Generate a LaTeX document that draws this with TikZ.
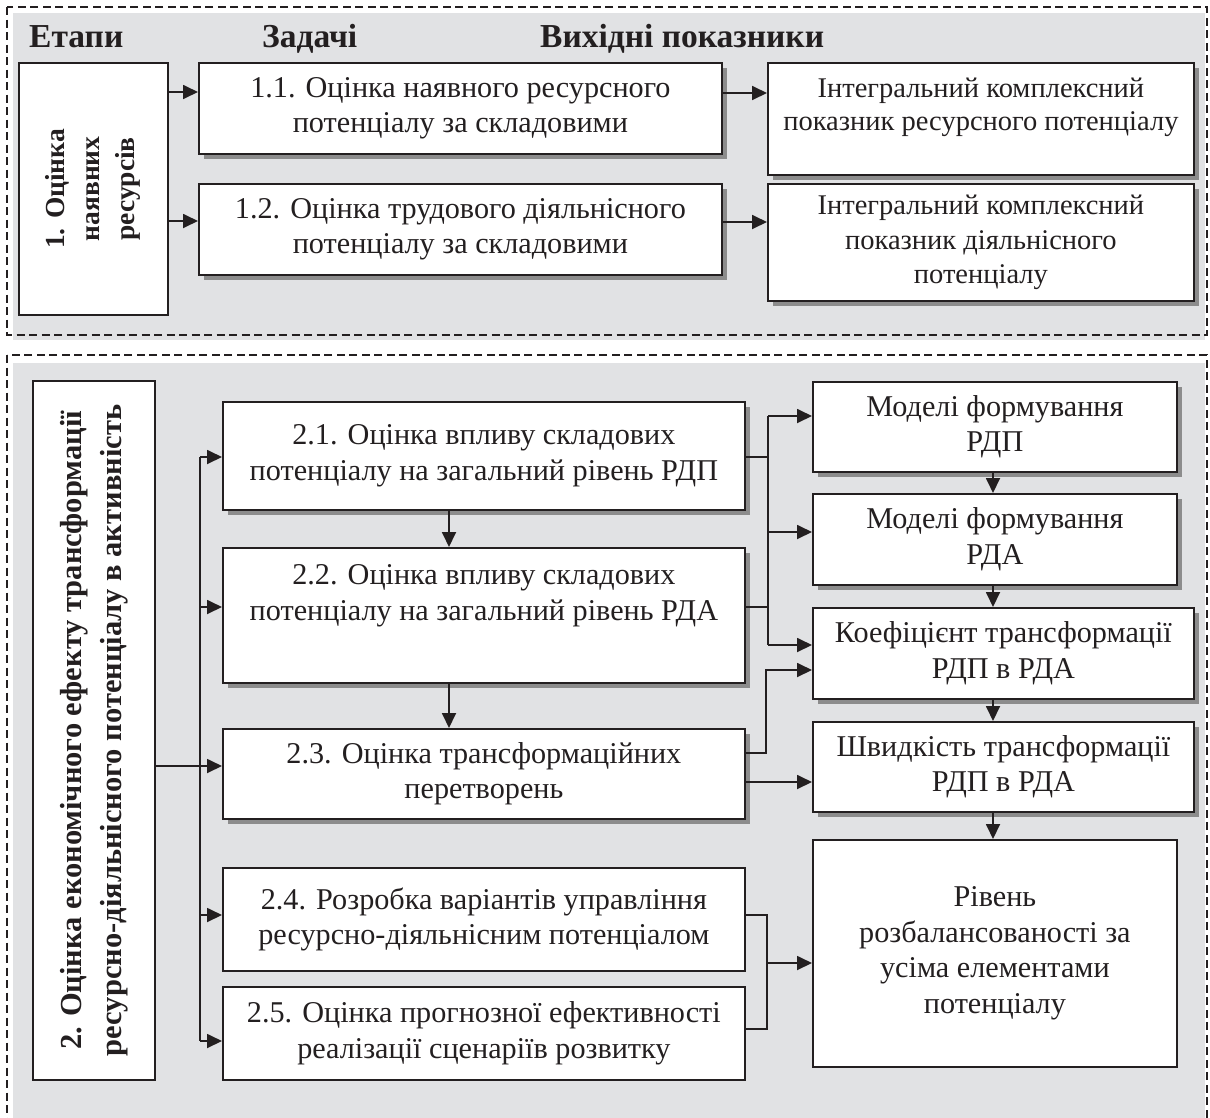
\documentclass[tikz,border=0pt]{standalone}
\usepackage{fontspec}
\setmainfont{Liberation Serif}
\usetikzlibrary{arrows.meta,shadows}

\definecolor{panelgray}{RGB}{225,226,228}
\definecolor{ink}{RGB}{35,31,32}

\tikzset{
  box/.style={draw=ink, line width=1.8pt, fill=white, inner sep=0pt, anchor=north west,
    align=center, font=\fontsize{30.2}{35.5}\selectfont},
  shbox/.style={box, drop shadow={shadow xshift=5pt, shadow yshift=-5pt, fill=black!45, opacity=1}},
  head/.style={font=\fontsize{33.5}{38}\selectfont\bfseries, anchor=base west, inner sep=0pt},
  stagetext/.style={rotate=90, align=center, inner sep=0pt},
  panel/.style={draw=ink, dash pattern=on 8pt off 4.5pt, line width=1.4pt},
  link/.style={draw=ink, line width=1.8pt},
  arr/.style={link, -{Triangle[length=15pt,width=14pt]}}
}

\begin{document}
\begin{tikzpicture}[x=1pt, y=-1pt, text=ink]
\useasboundingbox (0,0) rectangle (1210,1117);

% panels
\fill[panelgray] (13,13) rectangle (1205,340);
\draw[panel] (7,7) rectangle (1207,335);
\fill[panelgray] (13,363) rectangle (1205,1125);
\draw[panel] (7,355) rectangle (1207,1130);

% headers
\node[head] (hstage) at (29,47) {Етапи};
\node[head] (htask) at (262,47) {Задачі};
\node[head] (hout) at (540,47) {Вихідні показники};

% stage 1
\node[box, minimum width=149pt, minimum height=252pt] (st1) at (18,62) {};
\node[stagetext, font=\fontsize{27.5}{35}\selectfont\bfseries] (st1t) at (st1.center) {1. Оцінка\\наявних\\ресурсів};
\node[shbox, minimum width=523pt, minimum height=91pt] (t11) at (198,62) {1.1. Оцінка наявного ресурсного\\потенціалу за складовими};
\node[shbox, minimum width=523pt, minimum height=91pt] (t12) at (198,183) {1.2. Оцінка трудового діяльнісного\\потенціалу за складовими};
\node[shbox, minimum width=426pt, minimum height=112pt, font=\fontsize{28.5}{33}\selectfont] (o11) at (767,62) {Інтегральний комплексний\\показник ресурсного потенціалу\\[-14pt]\strut};
\node[shbox, minimum width=426pt, minimum height=117pt, font=\fontsize{28.5}{34.5}\selectfont] (o12) at (767,183) {Інтегральний комплексний\\показник діяльнісного\\потенціалу};

\draw[arr] (st1.east |- 0,92) -- (t11.west |- 0,92);
\draw[arr] (st1.east |- 0,221) -- (t12.west |- 0,221);
\draw[arr] (t11.east |- 0,93) -- (o11.west |- 0,93);
\draw[arr] (t12.east |- 0,222) -- (o12.west |- 0,222);

% stage 2
\node[box, minimum width=122pt, minimum height=699pt] (st2) at (32,380) {};
\node[stagetext, font=\fontsize{30.5}{40}\selectfont\bfseries] (st2t) at (st2.center) {2. Оцінка економічного ефекту трансформації\\ресурсно-діяльнісного потенціалу в активність};
\node[shbox, minimum width=522pt, minimum height=108pt] (t21) at (222,401) {2.1. Оцінка впливу складових\\потенціалу на загальний рівень РДП};
\node[shbox, minimum width=522pt, minimum height=135pt] (t22) at (222,547) {2.2. Оцінка впливу складових\\потенціалу на загальний рівень РДА\\\strut};
\node[shbox, minimum width=522pt, minimum height=90pt] (t23) at (222,728) {2.3. Оцінка трансформаційних\\перетворень};
\node[box, minimum width=522pt, minimum height=103pt] (t24) at (222,867) {2.4. Розробка варіантів управління\\ресурсно-діяльнісним потенціалом};
\node[box, minimum width=522pt, minimum height=93pt] (t25) at (222,986) {2.5. Оцінка прогнозної ефективності\\реалізації сценаріїв розвитку};

\node[shbox, minimum width=364pt, minimum height=90pt] (m1) at (812,381) {Моделі формування\\РДП};
\node[shbox, minimum width=364pt, minimum height=91pt] (m2) at (812,493) {Моделі формування\\РДА};
\node[shbox, minimum width=381pt, minimum height=91pt] (kt) at (812,607) {Коефіцієнт трансформації\\РДП в РДА};
\node[shbox, minimum width=381pt, minimum height=90pt] (sv) at (812,721) {Швидкість трансформації\\РДП в РДА};
\node[box, minimum width=364pt, minimum height=227pt] (rv) at (812,839) {Рівень\\розбалансованості за\\усіма елементами\\потенціалу};

% left spine
\coordinate (sp) at (200,0);
\draw[arr] (st2.east |- 0,766) -- (t23.west |- 0,766);
\draw[link] (sp |- 0,457) -- (sp |- 0,1041);
\foreach \n/\y in {t21/457, t22/607, t24/915, t25/1041}
  \draw[arr] (sp |- 0,\y) -- (\n.west |- 0,\y);

% down arrows
\draw[arr] (t21.south -| 449,0) -- (t22.north -| 449,0);
\draw[arr] (t22.south -| 449,0) -- (t23.north -| 449,0);
\draw[arr] (m1.south -| 993,0) -- (m2.north -| 993,0);
\draw[arr] (m2.south -| 993,0) -- (kt.north -| 993,0);
\draw[arr] (kt.south -| 993,0) -- (sv.north -| 993,0);
\draw[arr] (sv.south -| 993,0) -- (rv.north -| 993,0);

% right brackets
\coordinate (br) at (768,0);
\draw[link] (t21.east |- 0,457) -- (br |- 0,457);
\draw[link] (t22.east |- 0,607) -- (br |- 0,607);
\draw[link] (br |- 0,416) -- (br |- 0,645);
\draw[arr] (br |- 0,416) -- (m1.west |- 0,416);
\draw[arr] (br |- 0,532) -- (m2.west |- 0,532);
\draw[arr] (br |- 0,645) -- (kt.west |- 0,645);
\draw[arr] (t23.east |- 0,753) -| (766,670) -- (kt.west |- 0,670);
\draw[arr] (t23.east |- 0,782) -- (sv.west |- 0,782);

\coordinate (bb) at (767,0);
\draw[link] (t24.east |- 0,915) -| (bb |- 0,1029) -- (t25.east |- 0,1029);
\draw[arr] (bb |- 0,963) -- (rv.west |- 0,963);
\end{tikzpicture}
\end{document}
